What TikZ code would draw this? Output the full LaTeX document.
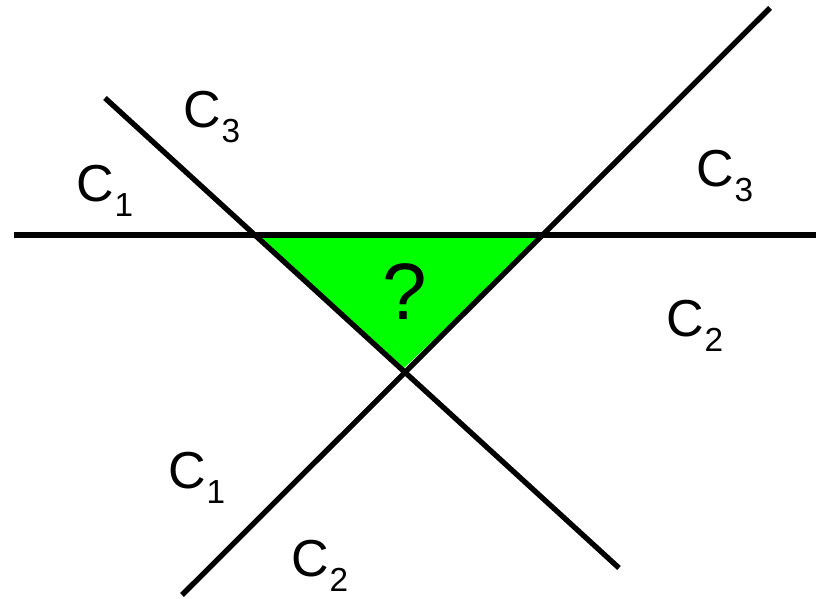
\documentclass[tikz,border=0pt]{standalone}
\usepackage{fontspec}
\setmainfont{Liberation Sans}
\usepackage{xcolor}
\definecolor{gapc}{RGB}{0,255,0}
\newcommand{\cls}[1]{C\raisebox{-0.3em}{\fontsize{25}{25}\selectfont #1}}
\tikzset{
  bound/.style={draw=black, line width=4pt, line cap=butt},
  gap/.style={fill=gapc},
  region/.style={inner sep=0pt, font=\fontsize{39}{39}\selectfont}
}

\begin{document}
\begin{tikzpicture}[x=0.75pt, y=-0.75pt]
  \useasboundingbox (0,0) rectangle (819,599);

  % three separating lines
  \coordinate (hl) at (14,235);
  \coordinate (hr) at (816,235);
  \coordinate (dt) at (105,98);
  \coordinate (db) at (619,568);
  \coordinate (ub) at (182,595);
  \coordinate (ut) at (770,8);

  % corners of the open region
  \coordinate (a) at (256,235);
  \coordinate (b) at (543,235);
  \coordinate (c) at (403,369);

  \fill[gap] (a) -- (b) -- (c) -- cycle;

  \draw[bound] (hl) -- (hr);
  \draw[bound] (dt) -- (db);
  \draw[bound] (ub) -- (ut);

  \node[region] (q) at (405,292) {\fontsize{60}{60}\selectfont ?};
  \node[region] (nw3) at (212,117) {\cls{3}};
  \node[region] (w1) at (105,191) {\cls{1}};
  \node[region] (ne3) at (725,176) {\cls{3}};
  \node[region] (e2) at (695,326) {\cls{2}};
  \node[region] (sw1) at (197,478) {\cls{1}};
  \node[region] (s2) at (320,566) {\cls{2}};
\end{tikzpicture}
\end{document}
